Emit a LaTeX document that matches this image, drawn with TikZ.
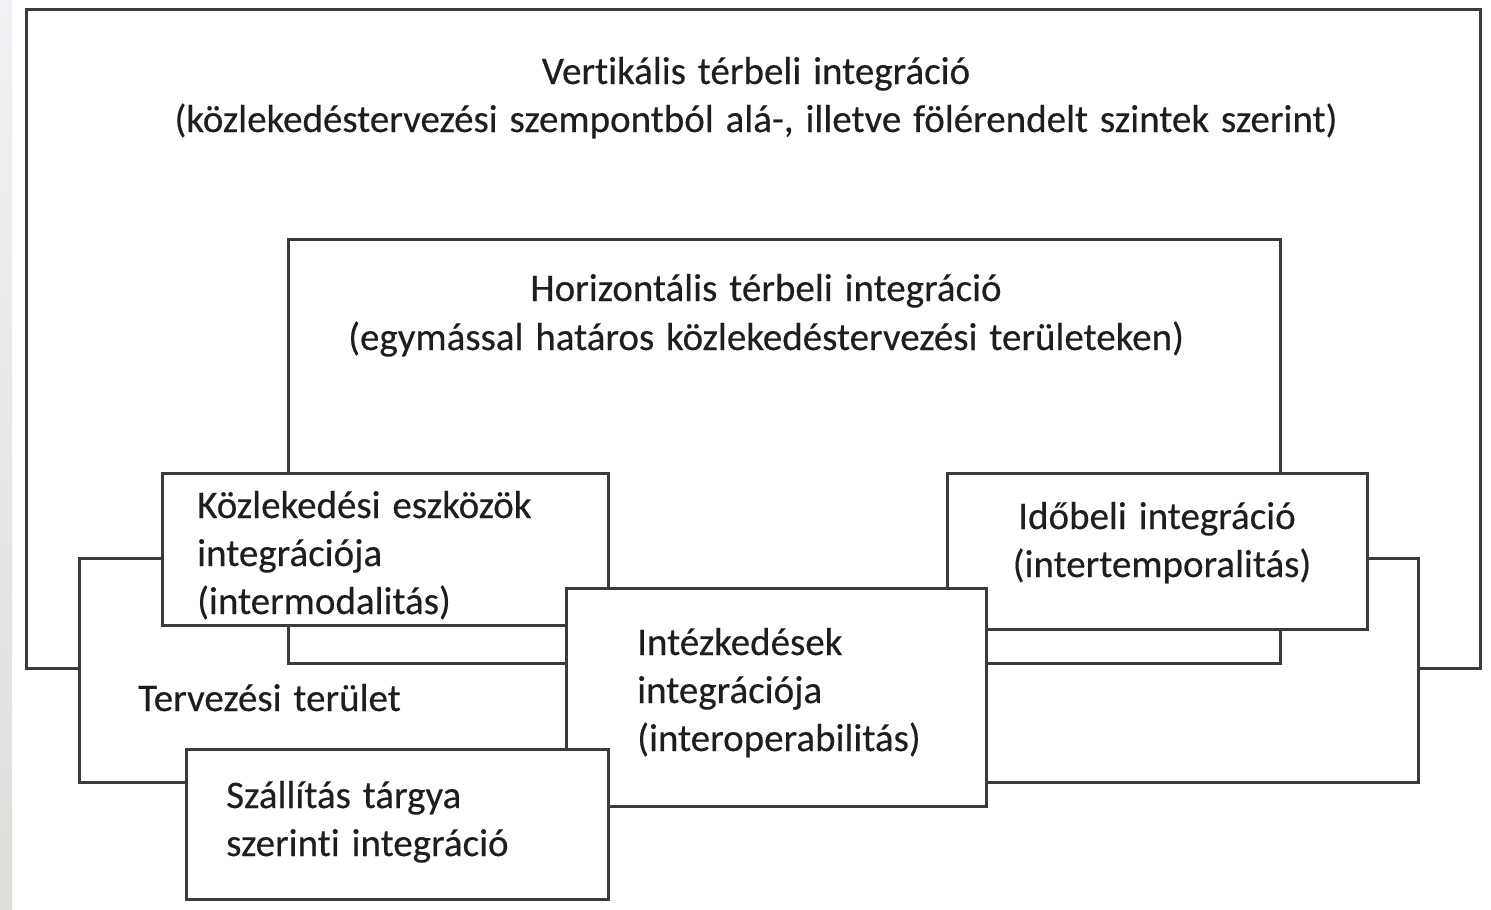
\documentclass[tikz,border=0pt]{standalone}
\usepackage{fontspec}
\setmainfont{Carlito}[Ligatures=NoCommon,WordSpace=1.35,FakeBold=0.35]
\definecolor{linec}{HTML}{3A3A3A}
\definecolor{textc}{HTML}{1E1E1E}
\definecolor{stripa}{HTML}{EEF1F5}
\definecolor{stripb}{HTML}{DEDED8}
\begin{document}
\begin{tikzpicture}[x=1pt,y=-1pt,
  panel/.style={draw=linec,line width=2.6pt,fill=white,rectangle,inner sep=0pt,anchor=north west},
  lbl/.style={inner sep=0pt,text=textc,font=\fontsize{39}{48}\selectfont},
  lw/.style={lbl,anchor=base west},
  lc/.style={lbl,anchor=base}]
\useasboundingbox (0,0) rectangle (1491,910);
\fill[white] (0,0) rectangle (1491,910);
\shade[top color=stripa,bottom color=stripb] (0,0) rectangle (12,910);
% outer boxes
\node[panel,minimum width=1454pt,minimum height=659pt] (vert) at (25,8) {};
\node[panel,minimum width=1339pt,minimum height=224pt] (terv) at (78,557) {};
\node[panel,minimum width=992pt,minimum height=424pt] (horiz) at (287,238) {};
% inner boxes
\node[panel,minimum width=446pt,minimum height=152pt] (kozl) at (161,472) {};
\node[panel,minimum width=420pt,minimum height=156pt] (ido) at (946,472) {};
\node[panel,minimum width=420pt,minimum height=218pt] (intez) at (565,587) {};
\node[panel,minimum width=422pt,minimum height=150pt] (szall) at (185,748) {};
% texts
\node[lc] (vt1) at (756,84) {Vertikális térbeli integráció};
\node[lc] (vt2) at (756,132) {(közlekedéstervezési szempontból alá-, illetve fölérendelt szintek szerint)};
\node[lc] (ht1) at (766,301) {Horizontális térbeli integráció};
\node[lc] (ht2) at (766,350) {(egymással határos közlekedéstervezési területeken)};
\node[lw] (kt1) at (197,518) {Közlekedési eszközök};
\node[lw] (kt2) at (197,566) {integrációja};
\node[lw] (kt3) at (197,614) {(intermodalitás)};
\node[lc] (it1) at (1157,529) {Időbeli integráció};
\node[lc] (it2) at (1162,577) {(intertemporalitás)};
\node[lw] (mt1) at (637,655) {Intézkedések};
\node[lw] (mt2) at (637,703) {integrációja};
\node[lw] (mt3) at (637,751) {(interoperabilitás)};
\node[lw] (tt1) at (138,711) {Tervezési terület};
\node[lw] (st1) at (226,808) {Szállítás tárgya};
\node[lw] (st2) at (226,856) {szerinti integráció};
\end{tikzpicture}
\end{document}
